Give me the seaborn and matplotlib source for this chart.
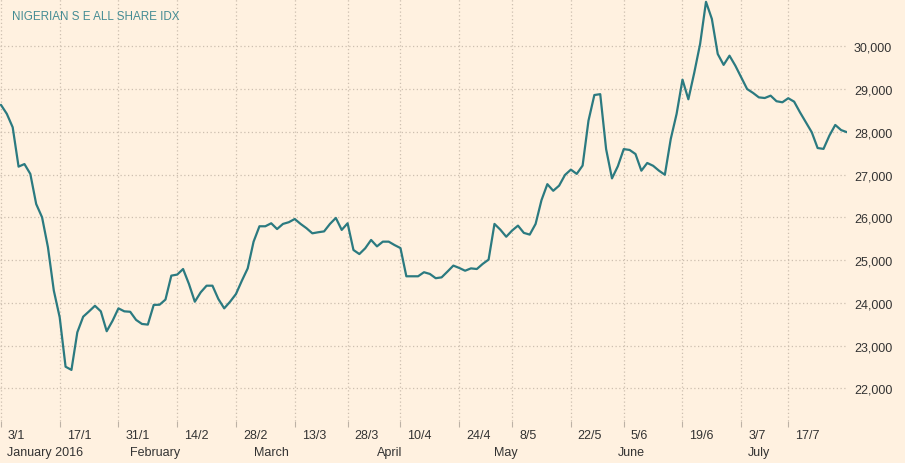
import matplotlib.pyplot as plt
from matplotlib.transforms import ScaledTranslation, blended_transform_factory
import numpy as np
import pandas as pd
import seaborn as sns

title = 'NIGERIAN S E ALL SHARE IDX'

# trading days (Nigerian market holidays removed)
holidays = ['2016-03-25', '2016-03-28', '2016-05-02', '2016-05-30',
            '2016-07-06', '2016-07-07']
days = pd.bdate_range('2016-01-04', '2016-08-01')
days = days[~days.isin(pd.to_datetime(holidays))]

index_values = [
    28630, 28420, 28105, 27185, 27245, 27015, 26310, 26000, 25300, 24285,
    23660, 22505, 22430, 23310, 23675, 23800, 23930, 23800, 23335, 23580,
    23870, 23800, 23790, 23600, 23505, 23490, 23950, 23955, 24075, 24635,
    24660, 24790, 24440, 24025, 24245, 24400, 24400, 24090, 23870, 24025,
    24205, 24515, 24805, 25430, 25790, 25790, 25860, 25725, 25845, 25885,
    25960, 25845, 25745, 25625, 25650, 25670, 25845, 25985, 25705, 25860,
    25235, 25140, 25275, 25470, 25320, 25430, 25430, 25350, 25280, 24620,
    24620, 24620, 24715, 24675, 24575, 24595, 24730, 24870, 24815, 24750,
    24805, 24790, 24910, 25010, 25845, 25710, 25545, 25690, 25805, 25635,
    25595, 25845, 26400, 26775, 26620, 26740, 26990, 27115, 27015, 27210,
    28260, 28860, 28880, 27595, 26910, 27195, 27595, 27575, 27480, 27090,
    27270, 27205, 27090, 26995, 27830, 28420, 29220, 28760, 29380, 30055,
    31040, 30640, 29820, 29565, 29780, 29545, 29275, 29000, 28910, 28805,
    28790, 28845, 28715, 28690, 28785, 28705, 28455, 28220, 27990, 27620,
    27600, 27910, 28160, 28040, 27990,
]

tick_dates = ['2016-01-03', '2016-01-17', '2016-01-31', '2016-02-14',
              '2016-02-28', '2016-03-13', '2016-03-28', '2016-04-10',
              '2016-04-24', '2016-05-08', '2016-05-22', '2016-06-05',
              '2016-06-19', '2016-07-03', '2016-07-17']
tick_labels = ['3/1', '17/1', '31/1', '14/2', '28/2', '13/3', '28/3', '10/4',
               '24/4', '8/5', '22/5', '5/6', '19/6', '3/7', '17/7']
month_labels = ['January 2016', 'February', 'March', 'April', 'May', 'June', 'July']
month_x = [7.5, 26.2, 46.0, 66.2, 86.0, 107.3, 129.0]
y_ticks = [22000, 23000, 24000, 25000, 26000, 27000, 28000, 29000, 30000]

bg = '#fff1e0'
line_color = '#2b7a80'
text_color = '#333333'
grid_color = '#cdbfb0'

sns.set_style('white', {'axes.facecolor': bg, 'figure.facecolor': bg})
plt.rcParams['font.family'] = ['Liberation Sans', 'DejaVu Sans']

df = pd.DataFrame({'day': np.arange(len(days)), 'value': index_values})

fig = plt.figure(figsize=(9.05, 4.64), dpi=100)
ax = fig.add_axes([0.0, 1 - 422 / 464, 847 / 905, 422 / 464])

sns.lineplot(data=df, x='day', y='value', color=line_color, linewidth=1.6,
             ax=ax)

ax.set_xlim(-0.16, 144)
ax.set_ylim(21235, 31106)

tick_pos = days.searchsorted(pd.to_datetime(tick_dates))
ax.set_xticks(tick_pos, tick_labels)
ax.set_yticks(y_ticks, [f'{v:,}' for v in y_ticks])
ax.yaxis.tick_right()

ax.grid(True, color=grid_color, linestyle=(0, (1, 2)), linewidth=0.9)
for s in ax.spines.values():
    s.set_visible(False)

ax.tick_params(axis='x', length=4.5, width=0.8, color='#bdb2a6', pad=1.5,
               labelsize=9, labelcolor=text_color, direction='out',
               bottom=True)
ax.tick_params(axis='y', length=0, pad=5, labelsize=9, labelcolor=text_color)

shift = ScaledTranslation(5 / 72, 0, fig.dpi_scale_trans)
for lab in ax.get_xticklabels():
    lab.set_horizontalalignment('left')
    lab.set_transform(lab.get_transform() + shift)

trans = blended_transform_factory(ax.transData, ax.transAxes)
for name, xpos in zip(month_labels, month_x):
    ax.text(xpos, -31 / 422, name, transform=trans, ha='center', va='center',
            fontsize=9, color=text_color)

ax.set_xlabel('')
ax.set_ylabel('')

fig.text(12 / 905, 1 - 16.5 / 464, title, fontsize=8.4, color='#458c94',
         ha='left', va='center')

fig.savefig('out.png', dpi=100, facecolor=bg)
